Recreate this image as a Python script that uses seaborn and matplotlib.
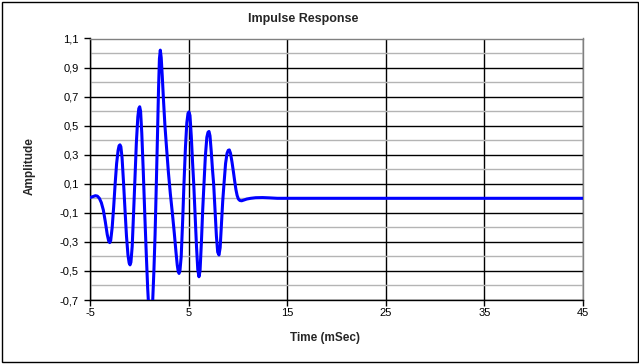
import numpy as np
import pandas as pd
import matplotlib
matplotlib.use("Agg")
import matplotlib.pyplot as plt
import seaborn as sns
from matplotlib.ticker import FixedLocator, FuncFormatter
from matplotlib.patches import Rectangle

# ---- data ----
time_ms = [-5.0, -4.7, -4.45, -4.25, -4.05, -3.85, -3.65, -3.45, -3.25, -3.1, -3.0, -2.9,
           -2.75, -2.6, -2.45, -2.3, -2.15, -2.05, -1.96, -1.87, -1.75, -1.6, -1.45, -1.3,
           -1.15, -1.03, -0.94, -0.85, -0.72, -0.58, -0.45, -0.3, -0.15, -0.05, 0.04, 0.13,
           0.25, 0.4, 0.55, 0.7, 0.85, 0.97, 1.07, 1.15, 1.25, 1.35, 1.48, 1.6, 1.72, 1.85,
           1.95, 2.04, 2.13, 2.22, 2.33, 2.45, 2.6, 2.75, 2.95, 3.15, 3.35, 3.55, 3.72, 3.85,
           3.95, 4.03, 4.12, 4.25, 4.4, 4.53, 4.68, 4.82, 4.94, 5.04, 5.14, 5.27, 5.4, 5.52,
           5.65, 5.8, 5.93, 6.05, 6.16, 6.3, 6.43, 6.56, 6.7, 6.85, 6.97, 7.07, 7.17, 7.3,
           7.42, 7.54, 7.68, 7.82, 7.95, 8.08, 8.2, 8.33, 8.46, 8.59, 8.75, 8.9, 9.02, 9.13,
           9.25, 9.4, 9.55, 9.67, 9.8, 9.92, 10.05, 10.2, 10.38, 10.6, 10.9, 11.3, 11.8,
           12.5, 13.2, 14.0, 20.0, 30.0, 45.0]
amplitude = [0.005, 0.012, 0.018, 0.015, 0.0, -0.03, -0.08, -0.16, -0.25, -0.295, -0.305, -0.29,
             -0.2, -0.06, 0.1, 0.24, 0.33, 0.362, 0.368, 0.355, 0.28, 0.11, -0.08, -0.26,
             -0.39, -0.445, -0.458, -0.44, -0.33, -0.1, 0.12, 0.38, 0.56, 0.618, 0.63, 0.6,
             0.45, 0.19, -0.1, -0.37, -0.62, -0.77, -0.84, -0.85, -0.82, -0.72, -0.5, -0.25, 0.08, 0.45,
             0.75, 0.96, 1.02, 0.97, 0.84, 0.68, 0.5, 0.36, 0.18, 0.03, -0.1, -0.24, -0.37, -0.46,
             -0.505, -0.517, -0.5, -0.4, -0.15, 0.1, 0.35, 0.52, 0.585, 0.595, 0.57, 0.43, 0.25, 0.1,
             -0.1, -0.33, -0.49, -0.54, -0.5, -0.3, -0.08, 0.1, 0.29, 0.42, 0.455, 0.46, 0.43, 0.32,
             0.2, 0.1, -0.08, -0.26, -0.37, -0.39, -0.34, -0.18, -0.02, 0.1, 0.24, 0.31, 0.33, 0.333,
             0.31, 0.25, 0.18, 0.12, 0.06, 0.02, -0.005, -0.015, -0.017, -0.012, -0.005, 0.0, 0.004,
             0.005, 0.003, 0.0, 0.0, 0.0, 0.0]

x_ticks = [-5, 5, 15, 25, 35, 45]
y_ticks = [-0.7, -0.5, -0.3, -0.1, 0.1, 0.3, 0.5, 0.7, 0.9, 1.1]
y_minor = [-0.6, -0.4, -0.2, 0.0, 0.2, 0.4, 0.6, 0.8, 1.0]

title = "Impulse Response"
x_label = "Time (mSec)"
y_label = "Amplitude"

df = pd.DataFrame({"t": time_ms, "a": amplitude})

sns.set_style("white")
plt.rcParams["font.family"] = ["Liberation Sans", "DejaVu Sans"]

W, H = 639, 364
fig = plt.figure(figsize=(W / 100, H / 100), dpi=100)
L, R, T, B = 90, 583, 38.5, 300
ax = fig.add_axes([L / W, 1 - B / H, (R - L) / W, (B - T) / H])

sns.lineplot(data=df, x="t", y="a", ax=ax, color="#0000FF", linewidth=2.2,
             sort=False, estimator=None)
for ln in ax.lines:
    ln.set_solid_joinstyle("round")
    ln.set_solid_capstyle("round")
    ln.set_zorder(3)

ax.set_xlim(-5, 45)
ax.set_ylim(-0.7, 1.1)
ax.xaxis.set_major_locator(FixedLocator(x_ticks))
ax.yaxis.set_major_locator(FixedLocator(y_ticks))
ax.yaxis.set_minor_locator(FixedLocator(y_minor))
ax.yaxis.set_major_formatter(FuncFormatter(lambda v, p: f"{v:.1f}".replace(".", ",")))
ax.xaxis.set_major_formatter(FuncFormatter(lambda v, p: f"{int(round(v))}"))

ax.grid(which="major", axis="both", color="black", linewidth=1.0)
ax.grid(which="minor", axis="y", color="#b4b4b4", linewidth=1.0)
ax.set_axisbelow(True)

ax.tick_params(axis="both", which="major", direction="out", length=4, width=1,
               color="black", labelsize=8, labelcolor="black")
ax.tick_params(axis="y", which="major", pad=4)
ax.tick_params(axis="x", which="major", pad=2)
ax.tick_params(which="minor", length=0)
ax.tick_params(left=True, bottom=True)

for s in ["left", "bottom"]:
    ax.spines[s].set_color("black")
    ax.spines[s].set_linewidth(1.0)
for s in ["top", "right"]:
    ax.spines[s].set_color("#808080")
    ax.spines[s].set_linewidth(1.0)
    ax.spines[s].set_visible(True)

ax.set_title(title, fontsize=9, fontweight="bold", x=(303 - L) / (R - L), pad=12)
ax.set_xlabel(x_label, fontsize=8.5, fontweight="bold")
ax.set_ylabel(y_label, fontsize=8.5, fontweight="bold")
ax.xaxis.set_label_coords((325 - L) / (R - L), (B - 331.5) / (B - T))
ax.yaxis.set_label_coords((36 - L) / (R - L), (B - 166) / (B - T))

fig.patches.append(Rectangle((1.5 / W, 2.5 / H), 636 / W, 360 / H, transform=fig.transFigure,
                             fill=False, edgecolor="black", linewidth=1.0))

fig.savefig("out.png", dpi=100, facecolor="white")
